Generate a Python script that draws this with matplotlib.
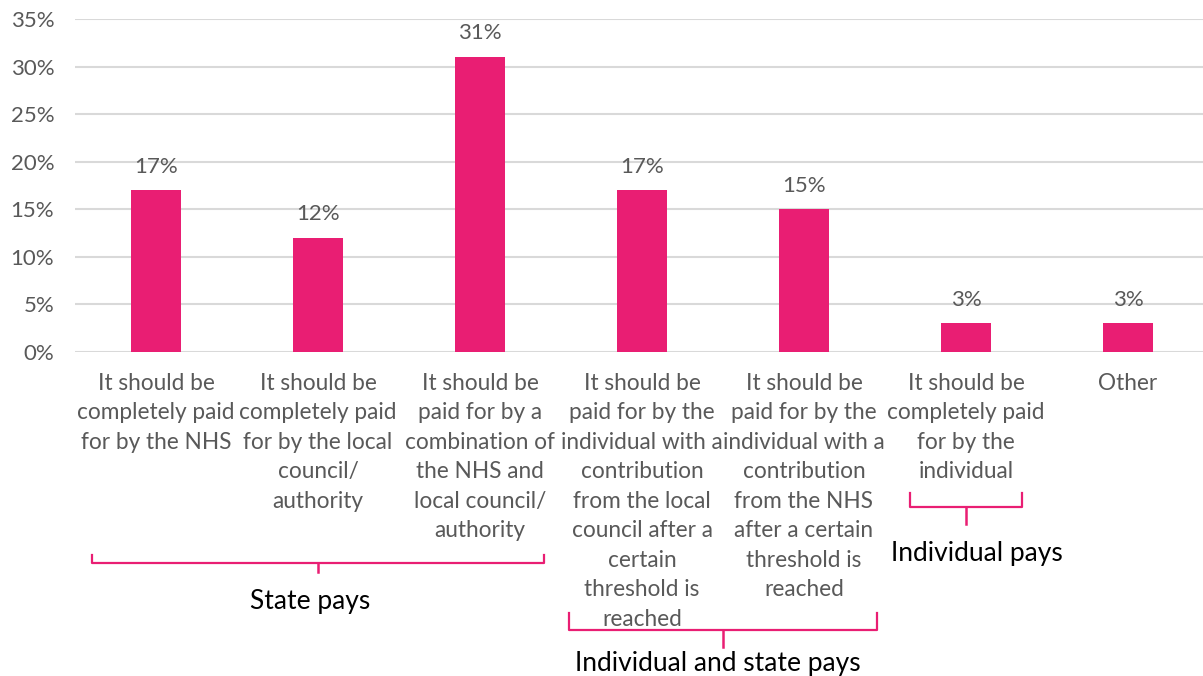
import matplotlib
matplotlib.use("Agg")
import matplotlib.pyplot as plt
from matplotlib.transforms import blended_transform_factory

categories = [
    "It should be\ncompletely paid\nfor by the NHS",
    "It should be\ncompletely paid\nfor by the local\ncouncil/\nauthority",
    "It should be\npaid for by a\ncombination of\nthe NHS and\nlocal council/\nauthority",
    "It should be\npaid for by the\nindividual with a\ncontribution\nfrom the local\ncouncil after a\ncertain\nthreshold is\nreached",
    "It should be\npaid for by the\nindividual with a\ncontribution\nfrom the NHS\nafter a certain\nthreshold is\nreached",
    "It should be\ncompletely paid\nfor by the\nindividual",
    "Other",
]
values = [17, 12, 31, 17, 15, 3, 3]
yticks = [0, 5, 10, 15, 20, 25, 30, 35]

group_names = ["State pays", "Individual and state pays", "Individual pays"]
# bracket layout: (left x, right x, center x) in category units, (end top px, bar px, tip px), label (x, y px)
bracket_x = [(-0.395, 2.395, 1.0), (2.55, 4.45, 3.5), (4.654, 5.346, 5.0)]
bracket_y = [(555, 563, 572), (613, 630, 647), (493, 507, 524)]
label_pos = [(0.95, 601), (3.47, 664), (5.07, 553)]

PINK = "#E91E73"
GRAY = "#595959"
FONT = "Lato"

W, H = 1203, 676
fig = plt.figure(figsize=(W / 100, H / 100), dpi=100)
ax = fig.add_axes([75 / W, 1 - 352 / H, 1134 / W, 333 / H])

x = list(range(len(values)))
ax.bar(x, values, width=0.31, color=PINK, zorder=3)
ax.set_xlim(-0.5, 6.5)
ax.set_ylim(0, 35)
ax.set_yticks(yticks)
ax.set_yticklabels([f"{v}%" for v in yticks], fontsize=16, color=GRAY, family=FONT)
ax.yaxis.grid(True, color="#D9D9D9", linewidth=1.5, zorder=0)
ax.tick_params(axis="y", length=0, pad=15)
ax.tick_params(axis="x", length=0, pad=15)
for s in ax.spines.values():
    s.set_visible(False)
ax.set_xticks(x)
ax.set_xticklabels(categories, fontsize=16.3, color=GRAY, family=FONT, linespacing=1.50, va="top")

for xi, v in zip(x, values):
    ax.annotate(f"{v}%", (xi, v), xytext=(0, 17), textcoords="offset points",
                ha="center", va="center", fontsize=16, color=GRAY, family=FONT)

tr = blended_transform_factory(ax.transData, fig.transFigure)
for (l, r, c), (yt, yb, ytip), name, (lx, ly) in zip(bracket_x, bracket_y, group_names, label_pos):
    fy = lambda p: 1 - p / H
    ax.plot([l, l, r, r], [fy(yt), fy(yb), fy(yb), fy(yt)], transform=tr, color=PINK,
            lw=1.6, clip_on=False, solid_joinstyle="round")
    ax.plot([c, c], [fy(yb), fy(ytip)], transform=tr, color=PINK, lw=1.8, clip_on=False)
    ax.text(lx, fy(ly), name, transform=tr, ha="center", va="center", fontsize=19,
            color="black", family=FONT)

fig.savefig("out.png", dpi=100)
